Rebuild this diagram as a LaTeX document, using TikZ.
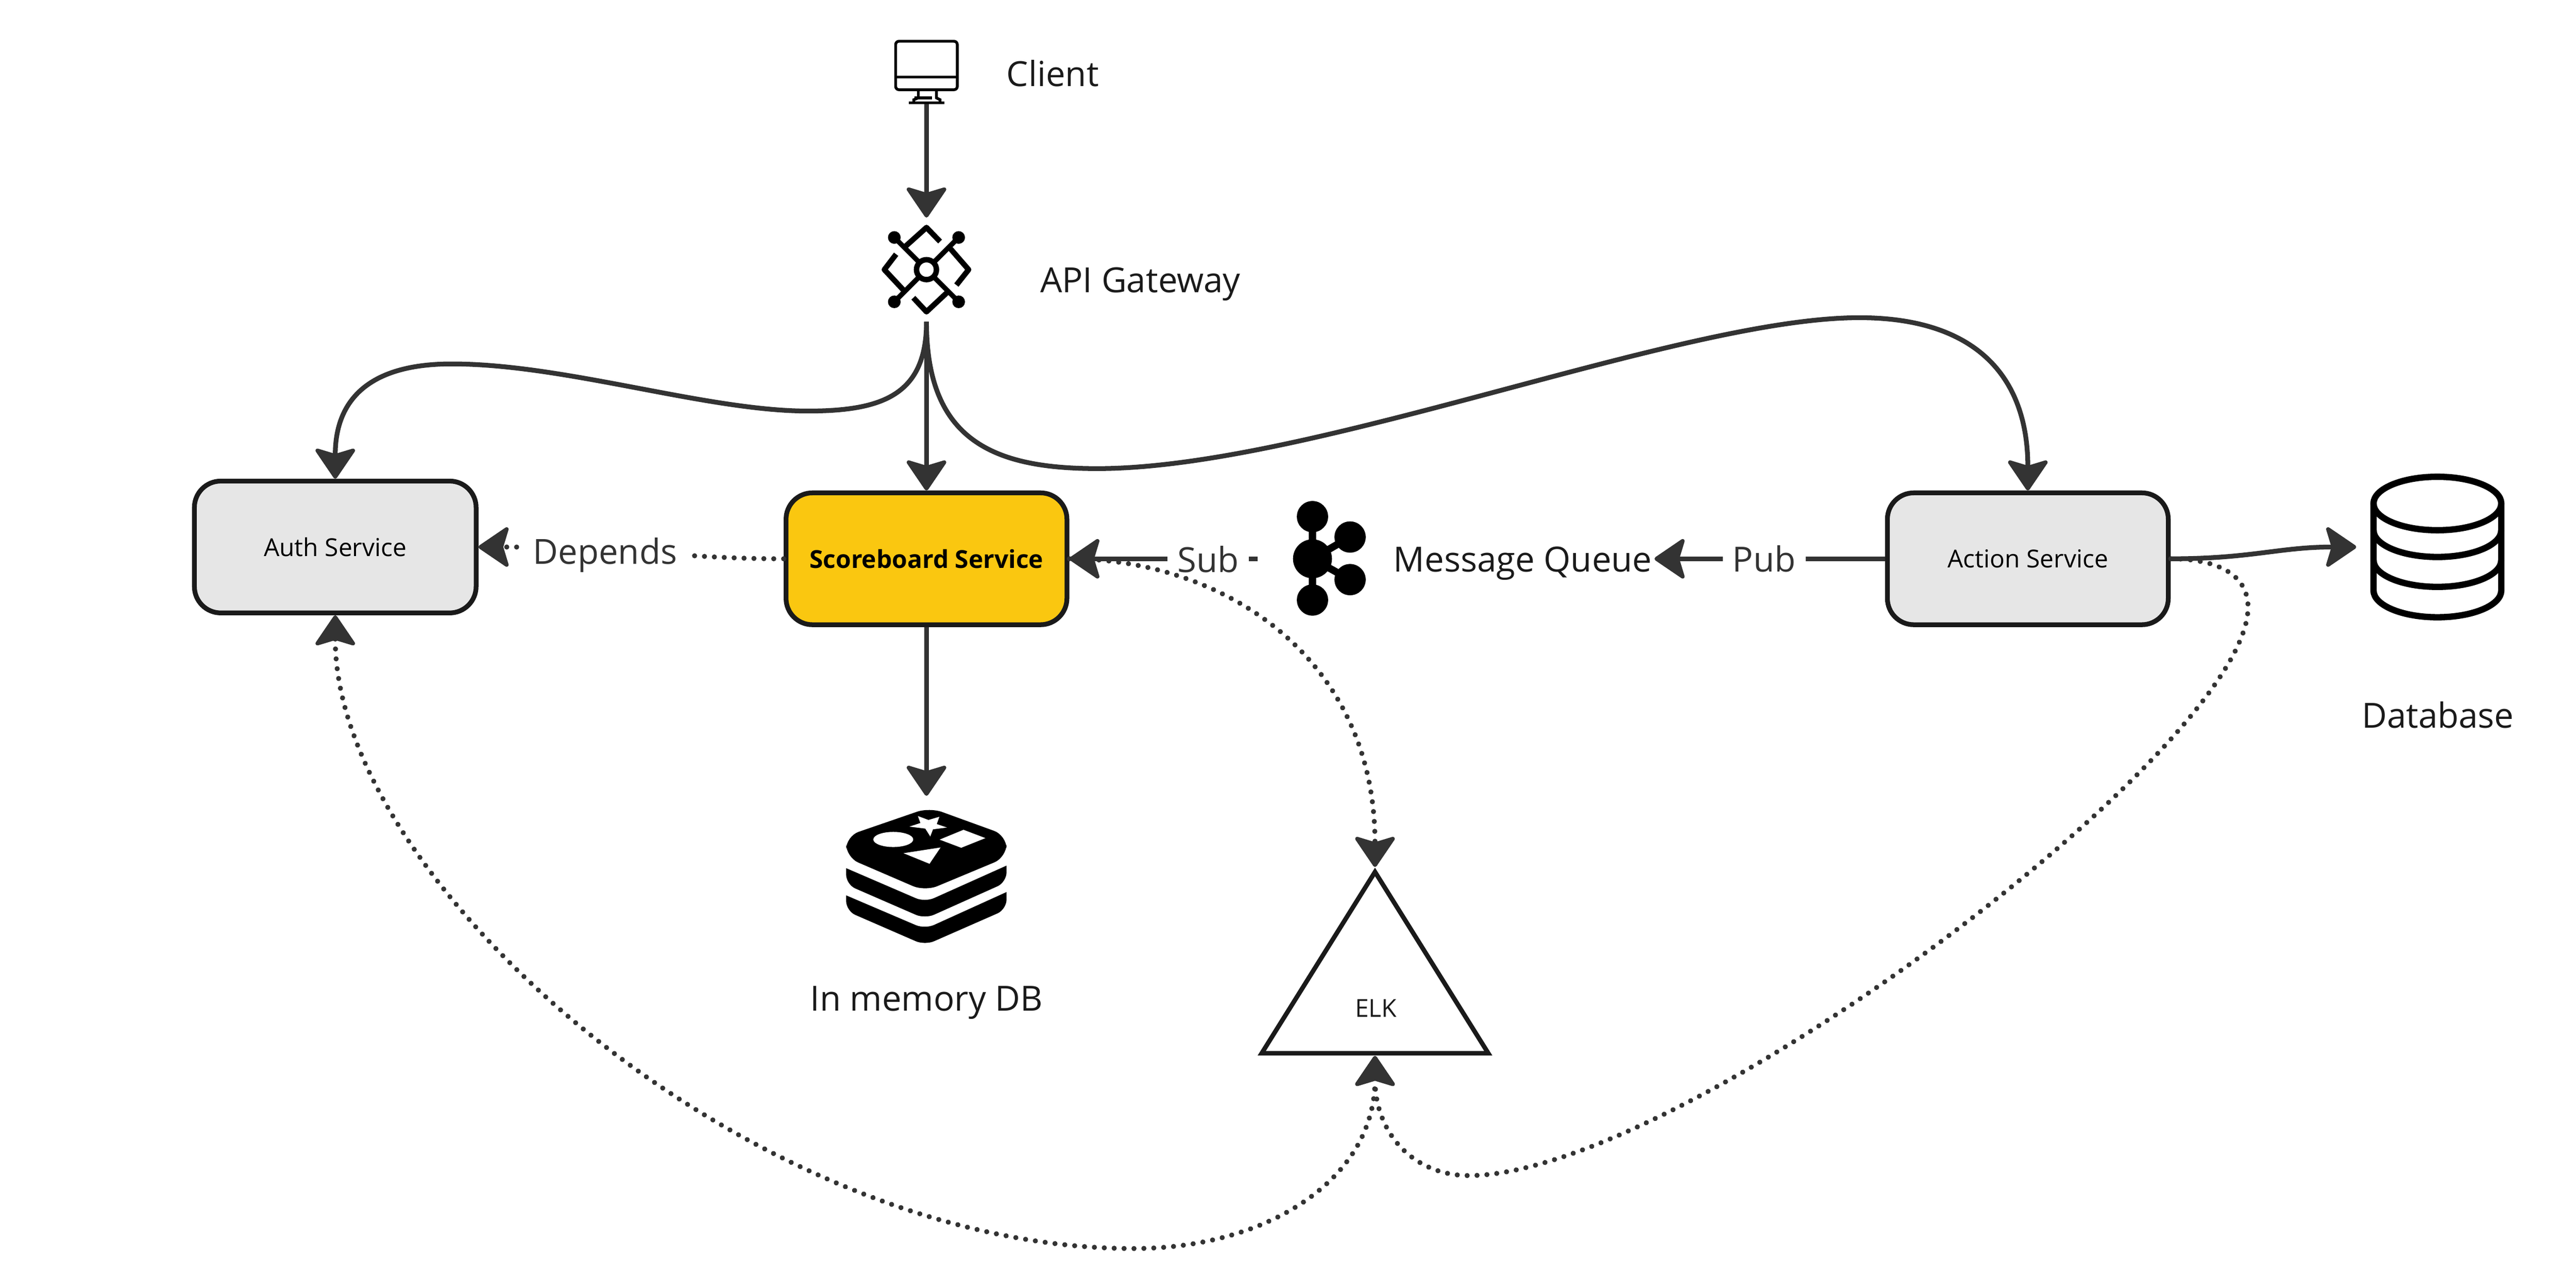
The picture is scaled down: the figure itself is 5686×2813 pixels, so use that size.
\documentclass[tikz,border=0pt]{standalone}
\usepackage{fontspec}
\setmainfont{Open Sans}
\usetikzlibrary{arrows.meta}
\definecolor{conncol}{HTML}{333333}
\definecolor{inkcol}{HTML}{1A1A1A}
\definecolor{greyfill}{HTML}{E6E6E6}
\definecolor{yellowfill}{HTML}{FAC710}
\newcommand{\bigtxt}{\fontsize{21}{26}\selectfont}
\newcommand{\smalltxt}{\fontsize{15}{18}\selectfont}
\tikzset{
  arrowtip/.tip={Stealth[round,length=20pt,width=27pt,inset=4pt,line width=2.4pt]},
  conn/.style={draw=conncol,line width=2.9pt,-{arrowtip}},
  dotconn/.style={draw=conncol,line width=3.1pt,line cap=round,dash pattern=on 0.01pt off 6pt},
  service/.style={draw=inkcol,line width=2.9pt,rounded corners=16pt,minimum width=170.5pt,minimum height=80pt,inner sep=0pt,text=black},
  anchorbox/.style={inner sep=0pt,outer sep=0pt},
  biglabel/.style={inner sep=0pt,outer sep=0pt,text=inkcol,font=\bigtxt},
  connlabel/.style={fill=white,inner ysep=0pt,inner xsep=6pt,outer sep=0pt,text=conncol,font=\bigtxt},
  iconline/.style={draw=black,line width=3.3pt,line join=round},
}
\begin{document}
\begin{tikzpicture}[x=0.275pt,y=-0.275pt]
\useasboundingbox (0,0) rectangle (5686,2813);
% service boxes
\node[service,fill=greyfill,minimum width=171pt] (auth) at (740,1207) {\smalltxt Auth Service};
\node[service,fill=yellowfill] (score) at (2045,1233) {\smalltxt\bfseries Scoreboard Service};
\node[service,fill=greyfill] (action) at (4476,1233) {\smalltxt Action Service};
% icon anchors
\node[anchorbox,minimum width=39pt,minimum height=39pt] (client) at (2045,159) {};
\node[anchorbox,minimum width=55pt,minimum height=63.25pt] (gw) at (2045,595) {};
\node[anchorbox,minimum width=65.5pt,minimum height=40pt] (kafka) at (2895,1233) {};
\node[anchorbox,minimum width=90pt,minimum height=90pt] (db) at (5364.5,1207) {};
\node[anchorbox,minimum width=97pt,minimum height=90.2pt] (redis) at (2045,1920) {};
% client icon
\begin{scope}[draw=black,line width=1.7pt]
\draw[rounded corners=2pt] (1977,91) rectangle (2113,198);
\draw (1977,170) -- (2113,170);
\draw (2027,198) -- (2027,216) -- (2017,220) -- (2017,227);
\draw (2067,198) -- (2067,216) -- (2075,220) -- (2075,227);
\draw (2019,216) -- (2057,216);
\draw (2006,227) -- (2084,227);
\end{scope}
% gateway icon
\begin{scope}[shift={(2045,595)}]
\draw[iconline] (-48,-50) -- (0,-93) -- (30,-62);
\draw[iconline] (-67,-34) -- (-93,0) -- (-50,46);
\draw[iconline] (53,-46) -- (93,0) -- (66,34);
\draw[iconline] (-29,62) -- (0,93) -- (46,50);
\draw[iconline,line width=3pt] (-71,-71) -- (-16,-16) (71,-71) -- (16,-16) (-71,71) -- (-16,16) (71,71) -- (16,16);
\fill[black] (-71,-71) circle[radius=14] (71,-71) circle[radius=14] (-71,71) circle[radius=14] (71,71) circle[radius=14];
\draw[black,line width=3.3pt] (0,0) circle[radius=22];
\end{scope}
% kafka icon
\draw[black,line width=4.4pt] (2897,1140) -- (2897,1324) (2897,1233) -- (2980,1185) (2897,1233) -- (2980,1279);
\fill[black] (2897,1233) circle[radius=43] (2897,1140) circle[radius=34.5] (2897,1324) circle[radius=34.5] (2980,1185) circle[radius=34.5] (2980,1279) circle[radius=34.5];
% database icon
\begin{scope}[draw=black,line width=3.85pt]
\draw (5380,1111) circle[x radius=141,y radius=59];
\draw (5239,1111) -- (5239,1303) arc[start angle=180,end angle=0,x radius=141,y radius=59] -- (5521,1111);
\draw (5239,1170) arc[start angle=180,end angle=0,x radius=141,y radius=59];
\draw (5239,1236) arc[start angle=180,end angle=0,x radius=141,y radius=59];
\end{scope}
% redis icon
\begin{scope}[shift={(1800,1750)},x=0.09167pt,y=-0.09167pt]
\fill[black,rounded corners=8pt] (755,95) -- (1265,280) -- (1265,425) -- (725,650) -- (203,425) -- (203,285) -- cycle;
\fill[black] (203,497) [rounded corners=6pt] -- (725,722) [sharp corners] -- (1265,480) [rounded corners=6pt] -- (1265,590) -- (725,832) -- (203,605) [sharp corners] -- cycle;
\fill[black] (203,677) [rounded corners=6pt] -- (725,900) [sharp corners] -- (1265,655) [rounded corners=6pt] -- (1265,770) -- (725,1007) -- (203,780) [sharp corners] -- cycle;
\fill[white] (515,307) circle[x radius=132,y radius=50];
\fill[white] (678,152) -- (748,178) -- (820,157) -- (803,205) -- (870,228) -- (778,240) -- (760,287) -- (727,235) -- (622,222) -- (695,198) -- cycle;
\fill[white] (980,243) -- (1125,298) -- (965,362) -- (822,308) -- cycle;
\fill[white] (583,398) -- (828,360) -- (755,468) -- cycle;
\end{scope}
% ELK triangle
\coordinate (elktop) at (3035,1913);
\coordinate (elkbot) at (3035,2330);
\draw[inkcol,line width=2.75pt,line join=miter] (3035,1924) -- (3285,2324) -- (2785,2324) -- cycle;
\node[inner sep=0pt,text=inkcol,font=\smalltxt] (elk) at (3037,2225) {ELK};
% labels
\node[biglabel,anchor=base west] (clientlbl) at (2222,190) {Client};
\node[biglabel,anchor=base west] (gwlbl) at (2296,645) {API Gateway};
\node[biglabel,anchor=base west] (mq) at (3076,1262) {Message Queue};
\node[biglabel,anchor=base] (dblbl) at (5381,1606) {Database};
\node[biglabel,anchor=base] (redislbl) at (2045,2231) {In memory DB};
% solid connectors
\draw[conn] (client.south) -- (gw.north);
\draw[conn] (gw.south) -- (score.north);
\draw[conn] (gw.south) .. controls (2045,870) and (1950,907) .. (1783,907) .. controls (1560,907) and (1247,803) .. (997,803) .. controls (775,803) and (740,920) .. (auth.north);
\draw[conn] (gw.south) .. controls (2045,970) and (2190,1034) .. (2422,1034) .. controls (2890,1034) and (3708,701) .. (4104,701) .. controls (4360,701) and (4476,830) .. (action.north);
\draw[conn] (score.south) -- (redis.north);
\draw[conn] (kafka.west) -- (score.east);
\draw[conn] (action.west) -- ([xshift=1.5pt]mq.east |- action.west);
\draw[conn] (action.east) .. controls (4970,1233) and (5030,1207) .. (db.west);
% connector labels
\node[connlabel,anchor=base] (sublbl) at (2667,1263) {Sub};
\node[connlabel,anchor=base] (publbl) at (3894,1262) {Pub};
% dotted connectors
\draw[dotconn,-{arrowtip}] (score.west) .. controls (1500,1233) and (1400,1207) .. (auth.east);
\node[connlabel,anchor=base] (deplbl) at (1335.5,1245) {Depends};
\draw[dotconn,-{arrowtip}] (score.east) .. controls (2700,1233) and (3035,1450) .. (elktop);
\draw[dotconn,-{arrowtip}] (action.east) .. controls (4880,1233) and (4962,1260) .. (4962,1340) .. controls (4962,1650) and (3707,2594) .. (3242,2594) .. controls (3120,2594) and (3035,2500) .. (elkbot);
\draw[dotconn,{arrowtip}-{arrowtip}] (auth.south) .. controls (740,1950) and (1660,2755) .. (2502,2755) .. controls (2800,2755) and (3035,2600) .. (elkbot);
\end{tikzpicture}
\end{document}
